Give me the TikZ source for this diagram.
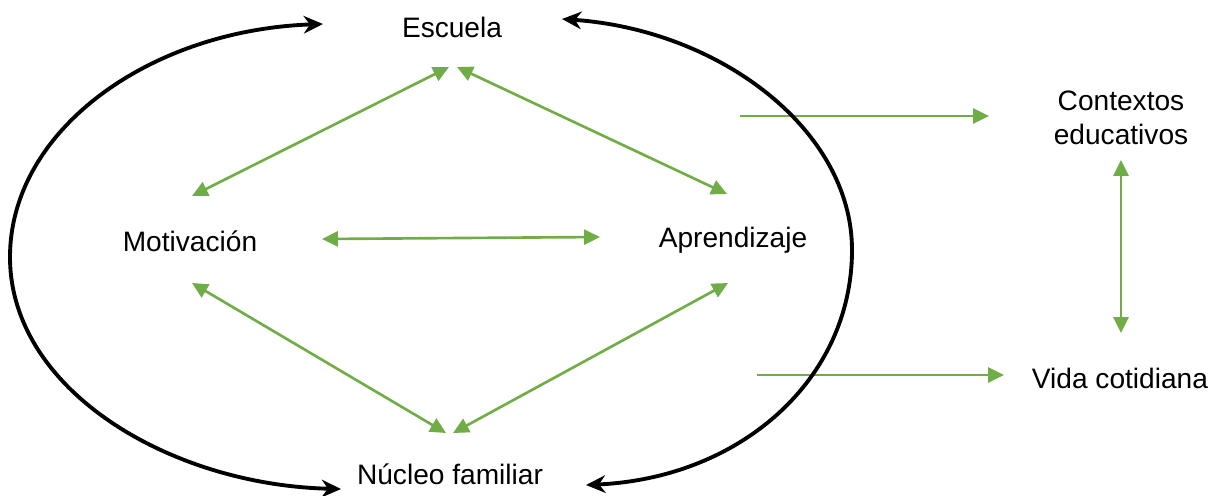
\documentclass[tikz,border=0pt]{standalone}
\usepackage{fontspec}
\setmainfont{Liberation Sans}
\usetikzlibrary{arrows.meta}
\definecolor{grn}{HTML}{70AD47}
\begin{document}
\begin{tikzpicture}[x=0.02cm,y=-0.02cm,
  lbl/.style={font=\fontsize{16}{19}\selectfont, inner sep=0pt, align=center},
  garrow/.style={draw=grn, line width=1.5pt, -{Triangle[length=9pt,width=8.5pt]}},
  gboth/.style={draw=grn, line width=1.5pt, {Triangle[length=9pt,width=8.5pt]}-{Triangle[length=9pt,width=8.5pt]}},
  barrow/.style={draw=black, line width=2.2pt, {Stealth[length=11pt,width=10pt]}-{Stealth[length=11pt,width=10pt]}}]
\useasboundingbox (0,0) rectangle (1217,495);
% labels
\node[lbl] (esc) at (452,27) {Escuela};
\node[lbl] (mot) at (190,241) {Motivación};
\node[lbl] (apr) at (733,240) {Aprendizaje};
\node[lbl] (nuc) at (450,474) {Núcleo familiar};
\node[lbl] (ctx) at (1121,118) {Contextos\\educativos};
\node[lbl] (vid) at (1120,378) {Vida cotidiana};
% connector end points
\coordinate (e1) at (449,67);
\coordinate (e2) at (457,67);
\coordinate (m1) at (192,196);
\coordinate (m2) at (322,239);
\coordinate (m3) at (192,283);
\coordinate (a1) at (727,194);
\coordinate (a2) at (600,237);
\coordinate (a3) at (728,283);
\coordinate (n1) at (446,433);
\coordinate (n2) at (453,433);
\coordinate (c0) at (740,116);
\coordinate (c1) at (989,116);
\coordinate (c2) at (1121,160);
\coordinate (v1) at (1121,333);
\coordinate (v0) at (757,375);
\coordinate (v2) at (1004,375);
\coordinate (bl1) at (323,24);
\coordinate (bl2) at (341,489);
\coordinate (br1) at (562,19);
\coordinate (br2) at (586,485);
% green connectors
\draw[gboth] (e1) -- (m1);
\draw[gboth] (e2) -- (a1);
\draw[gboth] (m2) -- (a2);
\draw[gboth] (m3) -- (n1);
\draw[gboth] (a3) -- (n2);
\draw[gboth] (c2) -- (v1);
\draw[garrow] (c0) -- (c1);
\draw[garrow] (v0) -- (v2);
% black curves
\draw[barrow] (bl1) .. controls (150,30) and (10,130) .. (10,257) .. controls (10,390) and (170,485) .. (bl2);
\draw[barrow] (br1) .. controls (720,30) and (852,130) .. (852,250) .. controls (852,380) and (740,478) .. (br2);
\end{tikzpicture}
\end{document}
